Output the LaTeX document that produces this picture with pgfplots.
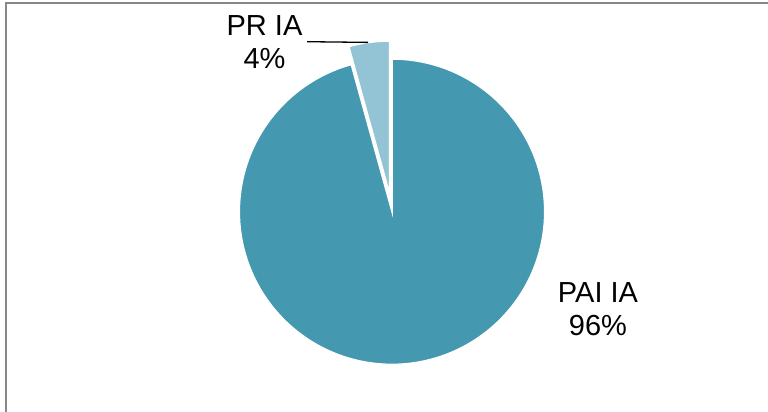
\documentclass[border=0pt]{standalone}
\usepackage{pgfplots}
\pgfplotsset{compat=1.18}
\usepackage{fontspec}
\setmainfont{Liberation Sans}
\definecolor{mainc}{HTML}{4499B0}
\definecolor{lightc}{HTML}{93C4D5}
\definecolor{framec}{HTML}{878787}
\begin{document}
\begin{tikzpicture}
% data (percent)
\def\valA{95.7}% PAI IA
\def\valB{4.3}%  PR IA
\pgfmathsetmacro{\aStart}{90-3.6*\valA}
\pgfmathsetmacro{\bStart}{\aStart-3.6*\valB}
\pgfmathsetmacro{\bMid}{(\aStart+\bStart)/2}
\pgfmathsetmacro{\cx}{392}
\pgfmathsetmacro{\cy}{200.3}
\pgfmathsetmacro{\R}{152.7}
\pgfmathsetmacro{\ex}{\cx+18.1*cos(\bMid)}
\pgfmathsetmacro{\ey}{\cy+18.1*sin(\bMid)}
\begin{axis}[
  x=1pt, y=1pt, scale only axis,
  xmin=0, xmax=768, ymin=0, ymax=412,
  hide axis, clip=false,
]
\addplot[fill=mainc, draw=white, line width=1.5pt, domain=\aStart:90, samples=240, variable=\t]
  ({\cx+\R*cos(\t)}, {\cy+\R*sin(\t)}) -- (axis cs:\cx,\cy) -- cycle;
\addplot[fill=lightc, draw=white, line width=1.5pt, domain=\bStart:\aStart, samples=30, variable=\t]
  ({\ex+\R*cos(\t)}, {\ey+\R*sin(\t)}) -- (axis cs:\ex,\ey) -- cycle;
\draw[black, line width=1.3pt] (axis cs:307,370.3) -- (axis cs:368,369.6);
\node[anchor=base, font=\fontsize{29}{33}\selectfont] at (axis cs:264.5,376) {PR IA};
\node[anchor=base, font=\fontsize{29}{33}\selectfont] at (axis cs:264.5,343.5) {4\%};
\node[anchor=base, font=\fontsize{29}{33}\selectfont] at (axis cs:598,109) {PAI IA};
\node[anchor=base, font=\fontsize{29}{33}\selectfont] at (axis cs:598,76) {96\%};
\end{axis}
\draw[framec, line width=2pt] (5.5pt,0pt) -- (5.5pt,408.5pt) -- (768pt,408.5pt);
\pgfresetboundingbox
\useasboundingbox (0pt,0pt) rectangle (768pt,412pt);
\end{tikzpicture}
\end{document}
